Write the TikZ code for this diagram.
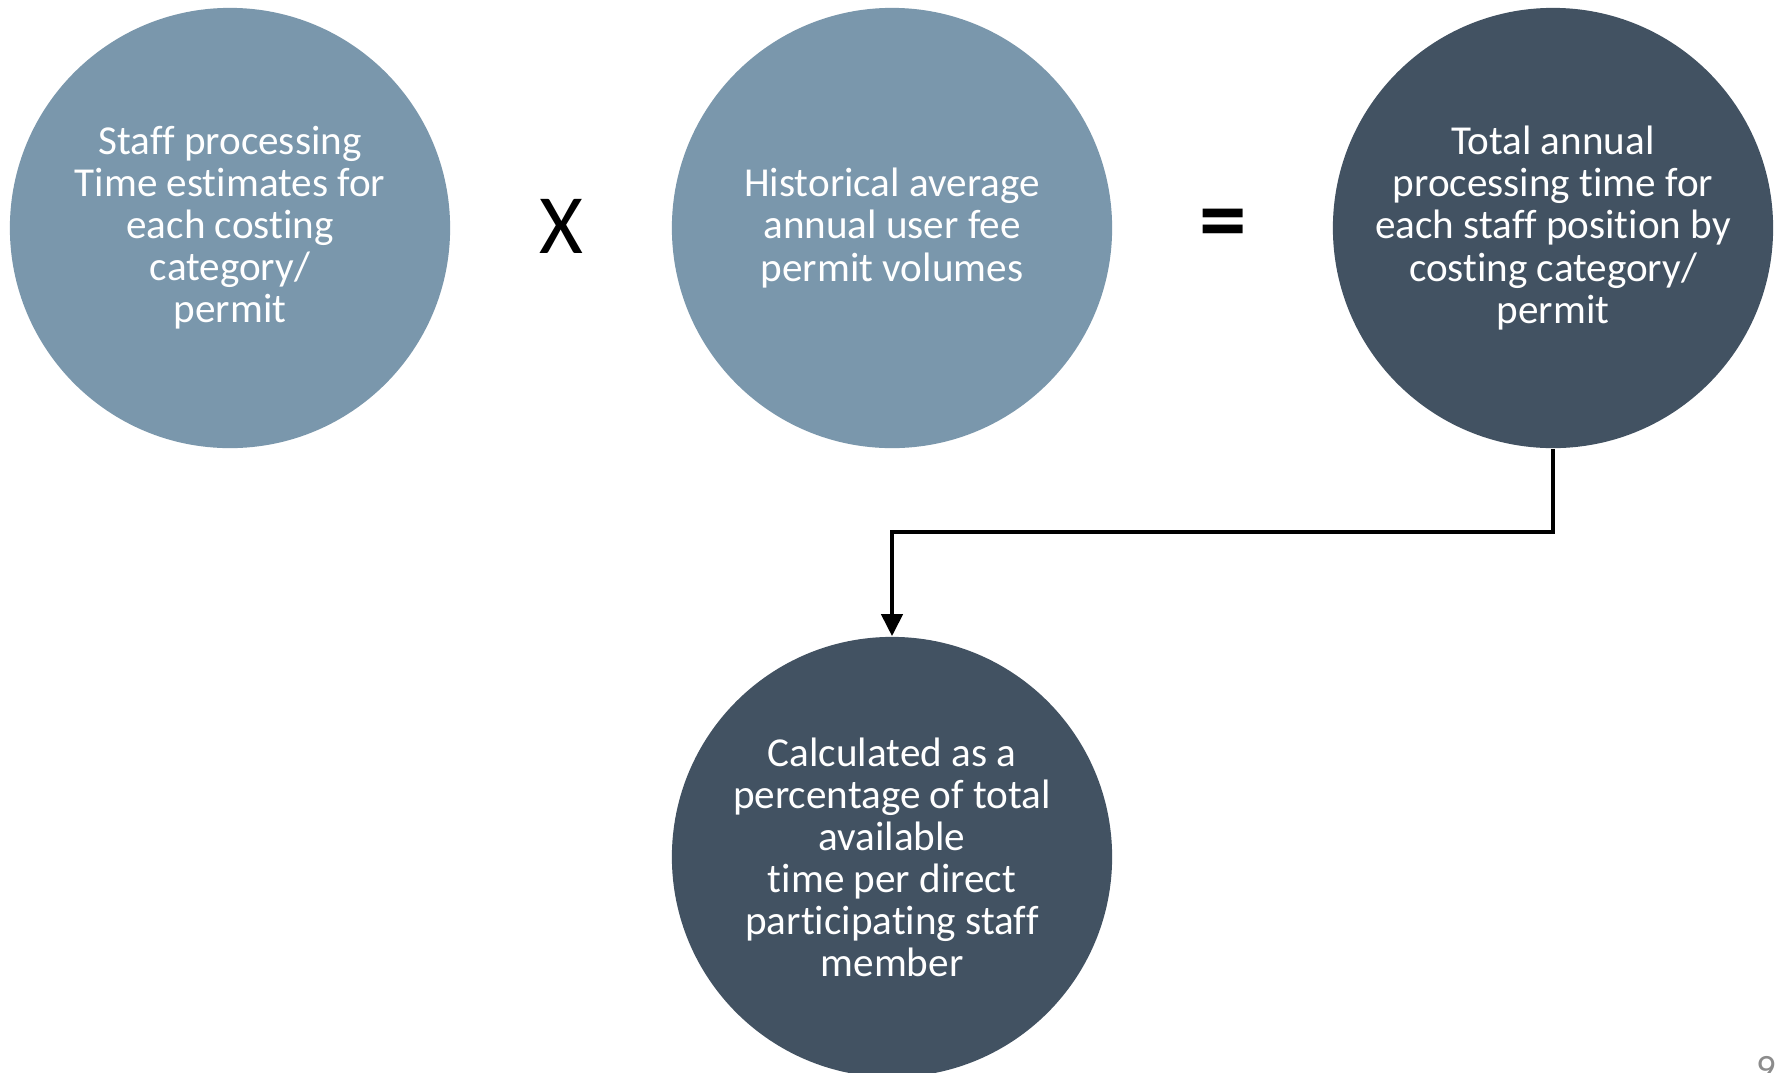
\documentclass[tikz,border=0pt]{standalone}
\usepackage{fontspec}
\setmainfont{Carlito}[Ligatures=NoCommon]
\usetikzlibrary{arrows.meta}
\definecolor{lightc}{RGB}{122,151,172}
\definecolor{darkc}{RGB}{66,82,98}
\definecolor{pagenum}{RGB}{140,140,140}
\tikzset{
  bubble/.style={circle, minimum size=4.4cm, inner sep=0pt, draw=none, text=white, align=center,
    font=\fontsize{11.7pt}{11.95pt}\selectfont},
  lightbubble/.style={bubble, fill=lightc},
  darkbubble/.style={bubble, fill=darkc},
  opsign/.style={inner sep=0pt, text=black},
  flow/.style={line width=0.042cm, draw=black, -{Triangle[width=0.21cm,length=0.22cm]}}
}
\begin{document}
\begin{tikzpicture}[x=0.01cm,y=-0.01cm]
\useasboundingbox[fill=white] (0,0) rectangle (1779,1072);
\node[lightbubble] (c1) at (230,228) {Staff processing\\Time estimates for\\each costing\\category/\\permit};
\node[lightbubble] (c2) at (892,228) {Historical average\\annual user fee\\permit volumes};
\node[darkbubble] (c3) at (1553,228) {Total annual\\processing time for\\each staff position by\\costing category/\\permit};
\node[darkbubble] (c4) at (892,857) {Calculated as a\\percentage of total\\available\\time per direct\\participating staff\\member};
\node[opsign, font=\fontsize{24pt}{28pt}\selectfont] (times) at (561,226) {X};
\node[opsign, font=\bfseries\fontsize{27pt}{30pt}\selectfont] (equals) at (1223,230) {=};
\node[text=pagenum, inner sep=0pt, anchor=north, font=\fontsize{11pt}{13pt}\selectfont] (pg) at (1766,1056) {9};
\coordinate (mid) at (892,532);
\draw[flow] (c3.south) |- (mid) -- (c4.north);
\end{tikzpicture}
\end{document}
